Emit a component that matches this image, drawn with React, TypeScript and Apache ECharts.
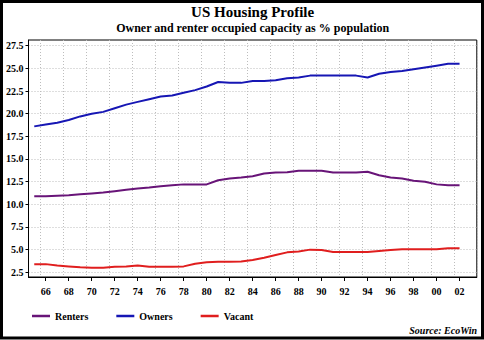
import React, { useEffect, useRef } from 'react';
import * as echarts from 'echarts';

const years = [
  '1965', '1966', '1967', '1968', '1969', '1970', '1971', '1972', '1973', '1974',
  '1975', '1976', '1977', '1978', '1979', '1980', '1981', '1982', '1983', '1984',
  '1985', '1986', '1987', '1988', '1989', '1990', '1991', '1992', '1993', '1994',
  '1995', '1996', '1997', '1998', '1999', '2000', '2001', '2002', '2003',
];

const renters = [
  10.9, 10.9, 10.95, 11.0, 11.1, 11.2, 11.3, 11.45, 11.6, 11.75,
  11.85, 12.0, 12.1, 12.2, 12.2, 12.2, 12.65, 12.85, 12.95, 13.1,
  13.4, 13.5, 13.55, 13.7, 13.7, 13.7, 13.5, 13.5, 13.5, 13.6,
  13.2, 12.95, 12.85, 12.6, 12.5, 12.2, 12.1, 12.1,
];

const owners = [
  18.6, 18.8, 19.0, 19.3, 19.7, 20.0, 20.2, 20.6, 21.0, 21.3,
  21.6, 21.9, 22.0, 22.3, 22.6, 23.0, 23.5, 23.4, 23.4, 23.6,
  23.6, 23.7, 23.9, 24.0, 24.2, 24.2, 24.2, 24.2, 24.2, 24.0,
  24.4, 24.6, 24.7, 24.9, 25.1, 25.3, 25.5, 25.5,
];

const vacant = [
  3.4, 3.4, 3.25, 3.15, 3.05, 3.0, 3.0, 3.1, 3.15, 3.25,
  3.1, 3.1, 3.1, 3.15, 3.45, 3.6, 3.65, 3.65, 3.7, 3.85,
  4.1, 4.4, 4.7, 4.8, 5.0, 4.95, 4.75, 4.75, 4.75, 4.75,
  4.85, 4.95, 5.05, 5.05, 5.05, 5.05, 5.15, 5.15,
];

const yTicks = [2.5, 5, 7.5, 10, 12.5, 15, 17.5, 20, 22.5, 25, 27.5];

const seriesNames = ['Renters', 'Owners', 'Vacant'];
const seriesColors = ['#681478', '#1616b4', '#e01e1e'];

const FONT = '"Liberation Serif", "Times New Roman", serif';

const isLabelYear = (idx: number, val: string) => {
  const y = parseInt(val, 10);
  return y % 2 === 0 && y <= 2002;
};

export default function App() {
  const ref = useRef<HTMLDivElement>(null);

  useEffect(() => {
    if (!ref.current) return;
    const chart = echarts.init(ref.current, null, { renderer: 'svg' });
    const plotLeft = 28.5;
    const plotRight = 476.8;
    const plotCenter = (plotLeft + plotRight) / 2;

    chart.setOption({
      animation: false,
      backgroundColor: '#fff',
      grid: {
        left: plotLeft,
        right: 484 - plotRight,
        top: 40,
        bottom: 63,
        show: true,
        borderColor: '#000',
        borderWidth: 1,
        backgroundColor: 'transparent',
      },
      xAxis: {
        type: 'category',
        data: years,
        boundaryGap: true,
        axisLine: { show: true, lineStyle: { color: '#000', width: 1 } },
        axisTick: {
          show: true,
          alignWithLabel: true,
          interval: isLabelYear,
          length: 4,
          lineStyle: { color: '#000' },
        },
        axisLabel: {
          interval: isLabelYear,
          formatter: (v: string) => v.slice(2),
          fontFamily: FONT,
          fontWeight: 'bold',
          fontSize: 10,
          color: '#000',
          margin: 9,
        },
        splitLine: {
          show: true,
          interval: isLabelYear,
          lineStyle: { color: '#bdbdbd', type: [1, 2], width: 1 },
        },
      },
      yAxis: {
        type: 'value',
        min: 1.98,
        max: 28.13,
        axisLine: { show: true, lineStyle: { color: '#000', width: 1 } },
        axisTick: {
          show: true,
          length: 3,
          customValues: yTicks,
          lineStyle: { color: '#000' },
        },
        axisLabel: {
          customValues: yTicks,
          formatter: (v: number) => v.toFixed(1),
          fontFamily: FONT,
          fontWeight: 'bold',
          fontSize: 10,
          color: '#000',
          margin: 5,
        },
        splitLine: {
          show: true,
          lineStyle: { color: '#bdbdbd', type: [1, 2], width: 1 },
        },
      },
      legend: {
        data: seriesNames,
        left: 32,
        top: 311,
        itemWidth: 18,
        itemHeight: 2.5,
        itemGap: 28,
        icon: 'rect',
        padding: 0,
        textStyle: {
          fontFamily: FONT,
          fontWeight: 'bold',
          fontSize: 10,
          color: '#000',
        },
      },
      series: [
        { name: seriesNames[0], type: 'line', data: renters, showSymbol: false, symbol: 'none', lineStyle: { width: 2, color: seriesColors[0] }, itemStyle: { color: seriesColors[0] } },
        { name: seriesNames[1], type: 'line', data: owners, showSymbol: false, symbol: 'none', lineStyle: { width: 2, color: seriesColors[1] }, itemStyle: { color: seriesColors[1] } },
        { name: seriesNames[2], type: 'line', data: vacant, showSymbol: false, symbol: 'none', lineStyle: { width: 2, color: seriesColors[2] }, itemStyle: { color: seriesColors[2] } },
      ],
      graphic: [
        {
          type: 'rect',
          shape: { x: 1.5, y: 1.5, width: 481, height: 336.5 },
          style: { fill: 'none', stroke: '#000', lineWidth: 3 },
          silent: true,
        },
        {
          type: 'text',
          x: plotCenter,
          y: 12,
          style: {
            text: 'US Housing Profile',
            fontFamily: FONT,
            fontWeight: 'bold',
            fontSize: 15,
            fill: '#000',
            textAlign: 'center',
            textVerticalAlign: 'middle',
          },
        },
        {
          type: 'text',
          x: plotCenter,
          y: 28,
          style: {
            text: 'Owner and renter occupied capacity as % population',
            fontFamily: FONT,
            fontWeight: 'bold',
            fontSize: 12,
            fill: '#000',
            textAlign: 'center',
            textVerticalAlign: 'middle',
          },
        },
        {
          type: 'text',
          x: 477,
          y: 330,
          style: {
            text: 'Source: EcoWin',
            fontFamily: FONT,
            fontWeight: 'bold',
            fontStyle: 'italic',
            fontSize: 10,
            fill: '#000',
            textAlign: 'right',
            textVerticalAlign: 'middle',
          },
        },
      ],
    });

    return () => chart.dispose();
  }, []);

  return (
    <div
      ref={ref}
      style={{ position: 'fixed', left: 0, top: 0, width: 484, height: 340, background: '#fff' }}
    />
  );
}
